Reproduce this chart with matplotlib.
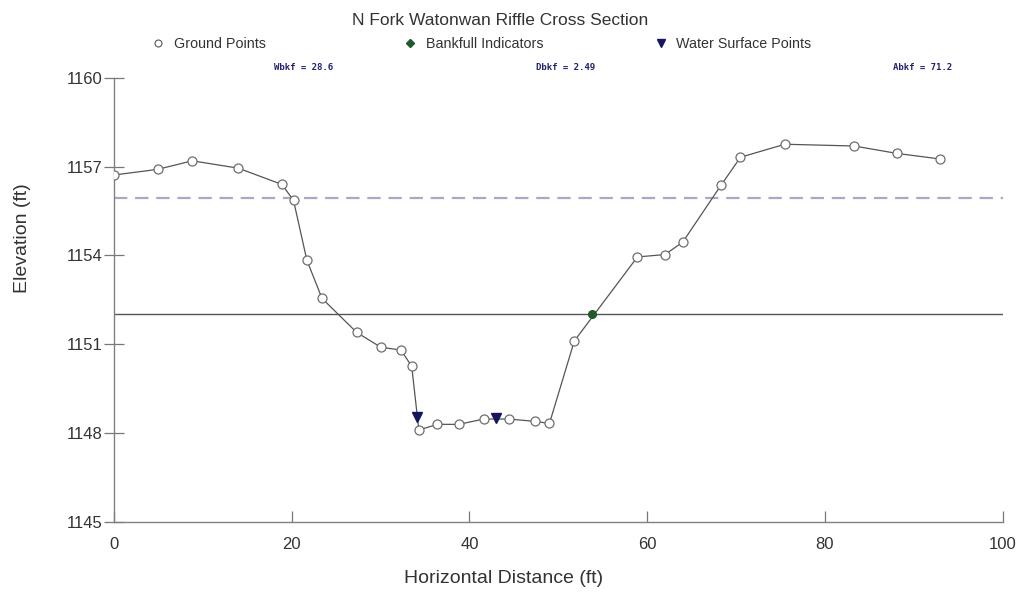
import matplotlib
matplotlib.use("Agg")
import matplotlib.pyplot as plt
from matplotlib.lines import Line2D

plt.rcParams['font.family'] = ['Liberation Sans', 'DejaVu Sans']

# ground survey points (station ft, elevation ft)
ground_x = [0.0, 4.9, 8.8, 14.0, 18.9, 20.2, 21.7, 23.4, 27.3, 30.0, 32.3, 33.5,
            34.3, 36.4, 38.8, 41.6, 44.4, 47.4, 49.0, 51.8, 58.9, 62.0, 64.0,
            68.3, 70.5, 75.5, 83.3, 88.1, 93.0]
ground_y = [1156.72, 1156.91, 1157.20, 1156.95, 1156.40, 1155.86, 1153.84, 1152.55,
            1151.40, 1150.90, 1150.80, 1150.25, 1148.10, 1148.29, 1148.29, 1148.47,
            1148.47, 1148.39, 1148.32, 1151.11, 1153.95, 1154.03, 1154.45, 1156.37,
            1157.32, 1157.76, 1157.70, 1157.45, 1157.26]

bankfull_x = [53.8]
bankfull_y = [1152.02]

water_x = [34.1, 43.0]
water_y = [1148.53, 1148.50]

bankfull_elev = 1152.02
floodprone_elev = 1155.95

stats = ["Wbkf = 28.6", "Dbkf = 2.49", "Abkf = 71.2"]
stats_xfrac = [0.213, 0.508, 0.91]

xticks = [0, 20, 40, 60, 80, 100]
yticks = [1145, 1148, 1151, 1154, 1157, 1160]

fig = plt.figure(figsize=(10.21, 5.93), dpi=100)
ax = fig.add_axes([0.1117, 0.1203, 0.8703, 0.7482])

# reference lines
ax.plot([0, 100], [floodprone_elev] * 2, color='#a9a9c4', lw=1.6, ls=(0, (6, 3.5)), zorder=1)
ax.plot([0, 100], [bankfull_elev] * 2, color='#555555', lw=1.0, zorder=1)

# cross section
ax.plot(ground_x, ground_y, color='#555555', lw=0.9, marker='o', ms=6.5,
        mfc='white', mec='#6e6e6e', mew=0.9, zorder=3)
ax.plot(water_x, water_y, ls='none', marker='v', ms=6.5, color='#161660', zorder=4)
ax.plot(bankfull_x, bankfull_y, ls='none', marker='o', ms=5.5, color='#1e5a2a', zorder=4)

ax.set_xlim(0, 100)
ax.set_ylim(1145, 1160)
ax.set_xticks(xticks)
ax.set_yticks(yticks)
ax.tick_params(axis='x', direction='in', length=8, width=0.9, color='#777777',
               labelsize=12, pad=11, colors='#333333')
ax.tick_params(axis='y', direction='inout', length=15, width=0.9, color='#777777',
               labelsize=12, pad=1, colors='#333333')
for s in ['top', 'right']:
    ax.spines[s].set_visible(False)
for s in ['left', 'bottom']:
    ax.spines[s].set_color('#808080')
    ax.spines[s].set_linewidth(1.0)

ax.set_xlabel("Horizontal Distance (ft)", fontsize=14, color='#333333')
ax.set_ylabel("Elevation (ft)", fontsize=14, color='#333333')
ax.xaxis.set_label_coords(0.438, -0.108)
ax.yaxis.set_label_coords(-0.093, 0.64)

fig.text(0.49, 0.9646, "N Fork Watonwan Riffle Cross Section", ha='center', va='center',
         fontsize=12.5, color='#333333')

# legend, three separate entries across the top
handles = [
    Line2D([], [], ls='none', marker='o', ms=5, mfc='white', mec='#555555', mew=0.8),
    Line2D([], [], ls='none', marker='D', ms=4.5, color='#1e5a2a'),
    Line2D([], [], ls='none', marker='v', ms=6, color='#161660'),
]
labels = ["Ground Points", "Bankfull Indicators", "Water Surface Points"]
leg_x = [0.148, 0.395, 0.64]
for h, lab, lx in zip(handles, labels, leg_x):
    lg = fig.legend([h], [lab], loc='center left', bbox_to_anchor=(lx, 0.926),
                    frameon=False, fontsize=10.3, handlelength=1.0, handletextpad=0.6,
                    borderpad=0, borderaxespad=0)
    for t in lg.get_texts():
        t.set_color('#333333')

for txt, xf in zip(stats, stats_xfrac):
    ax.text(xf, 1.013, txt, transform=ax.transAxes, ha='center', va='bottom',
            fontsize=6.5, family='DejaVu Sans Mono', weight='bold', color='#22226e')

fig.savefig("out.png", dpi=100)
